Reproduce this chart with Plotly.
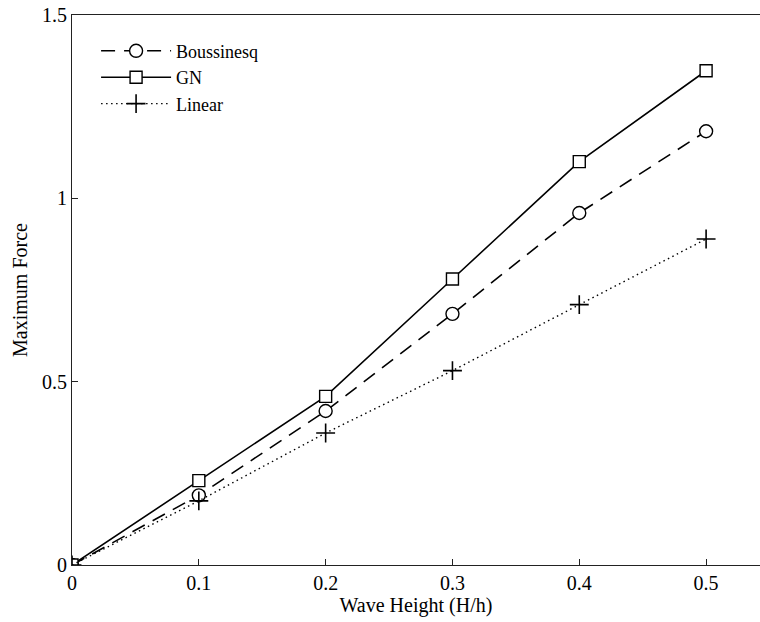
import plotly.graph_objects as go

wave_height = [0, 0.1, 0.2, 0.3, 0.4, 0.5]
boussinesq = [0, 0.19, 0.42, 0.685, 0.96, 1.183]
gn = [0, 0.23, 0.46, 0.78, 1.10, 1.348]
linear = [0, 0.175, 0.36, 0.53, 0.71, 0.889]

FONT = "Liberation Serif"
fig = go.Figure()
fig.add_trace(go.Scatter(
    x=wave_height, y=boussinesq, name="Boussinesq", mode="lines+markers",
    line=dict(color="black", width=1.6, dash="14px,9px"),
    marker=dict(symbol="circle", size=13, color="white", line=dict(color="black", width=1.4)),
))
fig.add_trace(go.Scatter(
    x=wave_height, y=gn, name="GN", mode="lines+markers",
    line=dict(color="black", width=1.6),
    marker=dict(symbol="square", size=12, color="white", line=dict(color="black", width=1.4)),
))
fig.add_trace(go.Scatter(
    x=wave_height, y=linear, name="Linear", mode="lines+markers",
    line=dict(color="black", width=1.4, dash="1.5px,3.5px"),
    marker=dict(symbol="cross-thin-open", size=13.5, color="black", line=dict(color="black", width=1.6)),
))

axis_common = dict(
    showline=True, linecolor="#222", linewidth=1.2, ticks="inside", ticklen=6,
    tickcolor="#222", showgrid=False, zeroline=False,
    tickfont=dict(family=FONT, size=20, color="black"),
)
fig.update_xaxes(range=[0, 0.5425], tickvals=[0, 0.1, 0.2, 0.3, 0.4, 0.5],
                 mirror=True, title=dict(text="Wave Height (H/h)", font=dict(family=FONT, size=20, color="black"), standoff=4),
                 **axis_common)
fig.update_yaxes(range=[0, 1.5], tickvals=[0, 0.5, 1, 1.5], mirror=False,
                 title=dict(text="Maximum Force", font=dict(family=FONT, size=20, color="black"), standoff=8),
                 **axis_common)
fig.update_layout(
    width=760, height=622,
    margin=dict(l=72, r=0, t=15, b=57),
    plot_bgcolor="white", paper_bgcolor="white",
    font=dict(family=FONT, size=18, color="black"),
    showlegend=True,
    legend=dict(x=0.035, y=0.968, xanchor="left", yanchor="top", bgcolor="rgba(0,0,0,0)",
                font=dict(family=FONT, size=18, color="black"), tracegroupgap=0, itemwidth=70),
)
fig.write_html("out.html")
